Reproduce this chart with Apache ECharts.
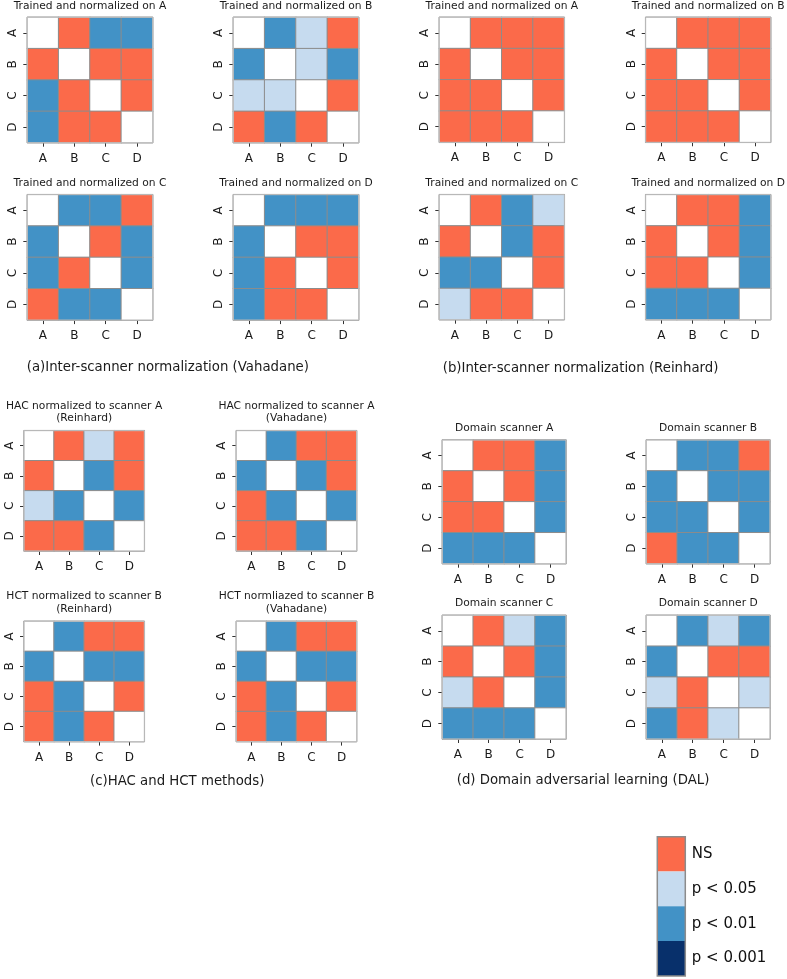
<!DOCTYPE html>
<html><head><meta charset="utf-8">
<script src="https://cdn.jsdelivr.net/npm/echarts@6/dist/echarts.min.js"></script>
<style>html,body{margin:0;padding:0;background:#fff}#c{width:787px;height:979px}</style>
</head><body><div id="c"></div><script>
// ---- data ----
const categories = ['A', 'B', 'C', 'D'];
// codes: 0 = same scanner (diagonal), 1 = NS, 2 = p < 0.05, 3 = p < 0.01, 4 = p < 0.001
const levelCodes = [1, 2, 3, 4];
const levelLabels = ['NS', 'p < 0.05', 'p < 0.01', 'p < 0.001'];

const vahadaneA = [[0,1,3,3],[1,0,1,1],[3,1,0,1],[3,1,1,0]];
const vahadaneB = [[0,3,2,1],[3,0,2,3],[2,2,0,1],[1,3,1,0]];
const vahadaneC = [[0,3,3,1],[3,0,1,3],[3,1,0,3],[1,3,3,0]];
const vahadaneD = [[0,3,3,3],[3,0,1,1],[3,1,0,1],[3,1,1,0]];
const reinhardA = [[0,1,1,1],[1,0,1,1],[1,1,0,1],[1,1,1,0]];
const reinhardB = [[0,1,1,1],[1,0,1,1],[1,1,0,1],[1,1,1,0]];
const reinhardC = [[0,1,3,2],[1,0,3,1],[3,3,0,1],[2,1,1,0]];
const reinhardD = [[0,1,1,3],[1,0,1,3],[1,1,0,3],[3,3,3,0]];
const hacReinhard = [[0,1,2,1],[1,0,3,1],[2,3,0,3],[1,1,3,0]];
const hacVahadane = [[0,3,1,1],[3,0,3,1],[1,3,0,3],[1,1,3,0]];
const hctReinhard = [[0,3,1,1],[3,0,3,3],[1,3,0,1],[1,3,1,0]];
const hctVahadane = [[0,3,1,1],[3,0,3,3],[1,3,0,1],[1,3,1,0]];
const dalA = [[0,1,1,3],[1,0,1,3],[1,1,0,3],[3,3,3,0]];
const dalB = [[0,3,3,1],[3,0,3,3],[3,3,0,3],[1,3,3,0]];
const dalC = [[0,1,2,3],[1,0,1,3],[2,1,0,3],[3,3,3,0]];
const dalD = [[0,3,2,3],[3,0,1,1],[2,1,0,2],[3,1,2,0]];

const panelMatrices = [vahadaneA, vahadaneB, vahadaneC, vahadaneD,
  reinhardA, reinhardB, reinhardC, reinhardD,
  hacReinhard, hacVahadane, hctReinhard, hctVahadane,
  dalA, dalB, dalC, dalD];
const panelTitles = [
  'Trained and normalized on A', 'Trained and normalized on B', 'Trained and normalized on C', 'Trained and normalized on D',
  'Trained and normalized on A', 'Trained and normalized on B', 'Trained and normalized on C', 'Trained and normalized on D',
  'HAC normalized to scanner A\n(Reinhard)', 'HAC normalized to scanner A\n(Vahadane)',
  'HCT normalized to scanner B\n(Reinhard)', 'HCT normliazed to scanner B\n(Vahadane)',
  'Domain scanner A', 'Domain scanner B', 'Domain scanner C', 'Domain scanner D'];
const captions = ['(a)Inter-scanner normalization (Vahadane)', '(b)Inter-scanner normalization (Reinhard)',
  '(c)HAC and HCT methods)', '(d) Domain adversarial learning (DAL)'];

// ---- layout & style ----
const levelColors = ['#fb6a4a', '#c6dbef', '#4292c6', '#08306b'];
const FONT = 'DejaVu Sans';
// [left, top, size] per panel
const panelBoxes = [
  [27.3, 17.3, 125.4], [233.3, 17.3, 125.4], [27.3, 194.7, 125.4], [233.3, 194.7, 125.4],
  [439.3, 17.3, 125.0], [645.7, 17.3, 125.0], [439.3, 194.7, 125.0], [645.7, 194.7, 125.0],
  [24.0, 430.7, 120.3], [236.3, 430.7, 120.3], [24.0, 621.3, 120.3], [236.3, 621.3, 120.3],
  [442.3, 440.0, 123.7], [646.3, 440.0, 123.7], [442.3, 615.3, 123.7], [646.3, 615.3, 123.7]];
const titleOffsets = [11.3,11.3,11.3,11.3, 11.3,11.3,11.3,11.3, 18.5,18.5,18.5,18.5, 11.7,11.7,11.7,11.7];
const captionPos = [[26.7, 368], [442.7, 368.3], [90, 781.7], [456.7, 781]];

const grids = [], xAxes = [], yAxes = [], series = [], graphics = [];
panelMatrices.forEach((m, i) => {
  const [l, t, s] = panelBoxes[i];
  grids.push({left: l, top: t, width: s, height: s, show: true, backgroundColor: 'rgba(0,0,0,0)',
    borderColor: '#c2c2c2', borderWidth: 1, z: 5, containLabel: false});
  xAxes.push({gridIndex: i, type: 'category', data: categories, position: 'bottom',
    axisLine: {show: false}, splitLine: {show: false}, splitArea: {show: false},
    axisTick: {show: true, alignWithLabel: true, length: 4, lineStyle: {color: '#333', width: 1}},
    axisLabel: {fontSize: 12, color: '#1a1a1a', margin: 10, fontFamily: FONT}});
  yAxes.push({gridIndex: i, type: 'category', data: categories, inverse: true,
    axisLine: {show: false}, splitLine: {show: false}, splitArea: {show: false},
    axisTick: {show: true, alignWithLabel: true, length: 4, lineStyle: {color: '#333', width: 1}},
    axisLabel: {fontSize: 12, color: '#1a1a1a', margin: 8, rotate: 90, fontFamily: FONT}});
  const data = [];
  m.forEach((row, r) => row.forEach((v, c) => data.push([c, r, v])));
  series.push({type: 'heatmap', xAxisIndex: i, yAxisIndex: i, data,
    itemStyle: {borderColor: '#8c8c8c', borderWidth: 1},
    emphasis: {disabled: true}, label: {show: false}, z: 2});
  graphics.push({type: 'text', x: l + s / 2, y: t - titleOffsets[i], z: 50,
    style: {text: panelTitles[i], fontFamily: FONT, fontSize: 10.7, fill: '#1a1a1a',
      textAlign: 'center', textVerticalAlign: 'middle', lineHeight: 12.5}});
});
captions.forEach((c, i) => {
  graphics.push({type: 'text', x: captionPos[i][0], y: captionPos[i][1], z: 50,
    style: {text: c, fontFamily: FONT, fontSize: 13.3, fill: '#1a1a1a', textAlign: 'left', textVerticalAlign: 'middle'}});
});
graphics.push({type: 'rect', z: 100, silent: true,
  shape: {x: 657.3, y: 836.7, width: 28, height: 139.2},
  style: {fill: 'none', stroke: '#8c8c8c', lineWidth: 1.5}});

const chart = echarts.init(document.getElementById('c'), null, {renderer: 'canvas'});
chart.setOption({
  animation: false,
  backgroundColor: '#ffffff',
  grid: grids, xAxis: xAxes, yAxis: yAxes, series,
  visualMap: {
    type: 'piecewise', seriesIndex: series.map((_, i) => i), orient: 'vertical',
    left: 657.3, top: 836.7, itemWidth: 28, itemHeight: 34.8, itemGap: 0, itemSymbol: 'rect',
    align: 'left', textGap: 6.5, padding: 0, inverse: true, selectedMode: false, hoverLink: false,
    pieces: levelCodes.map((v, k) => ({value: v, label: levelLabels[k], color: levelColors[k]})),
    outOfRange: {color: '#ffffff'},
    textStyle: {fontSize: 15, color: '#111', fontFamily: FONT}
  },
  graphic: graphics
});
</script></body></html>
